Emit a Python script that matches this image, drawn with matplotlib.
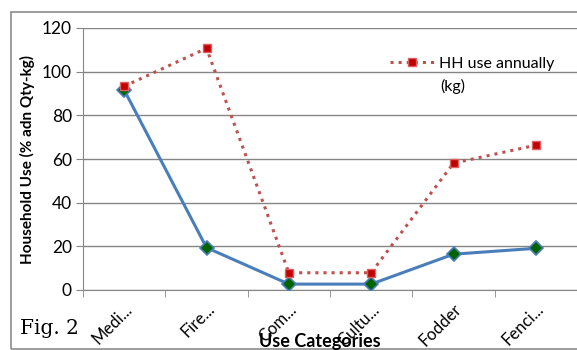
import numpy as np
import matplotlib.pyplot as plt
from matplotlib.patches import Rectangle

categories = ['Medi...', 'Fire...', 'Com...', 'Cultu...', 'Fodder', 'Fenci...']
hh_use_pct = [91.6, 19.4, 2.7, 2.7, 16.4, 19.1]
hh_use_kg = [93.3, 110.7, 7.9, 7.9, 58.1, 66.3]

plt.rcParams['font.family'] = ['Lato', 'DejaVu Sans']

fig = plt.figure(figsize=(5.77, 3.5), dpi=100)
ax = fig.add_axes([83/577, 60/350, 494/577, 262/350])

# outer chart border
fig.patches.append(Rectangle((11/577, 1/350), 1.0, 337/350, transform=fig.transFigure,
                             fill=False, edgecolor='#8c8c8c', linewidth=1.2))

x = np.arange(len(categories))
ax.plot(x, hh_use_pct, '-', color='#4a7ebb', lw=2.2, marker='D', ms=7,
        markerfacecolor='#006400', markeredgecolor='#4a7ebb', markeredgewidth=1.2, zorder=3)
ax.plot(x, hh_use_kg, ':', color='#c0504d', lw=2.2, marker='s', ms=6,
        markerfacecolor='#c00000', markeredgecolor='#e06060', markeredgewidth=1,
        label='HH use annually', zorder=3)

ax.set_xlim(-0.5, len(categories) - 0.5)
ax.set_ylim(0, 120)
ax.set_yticks(range(0, 121, 20))
ax.yaxis.grid(True, color='#868686', lw=1)
ax.set_axisbelow(True)

ax.set_xticks(x)
ax.set_xticklabels(categories, rotation=45, ha='right', rotation_mode='anchor', fontsize=12)
ax.set_xticks(np.arange(-0.5, len(categories)), minor=True)
ax.tick_params(axis='x', which='major', length=0, pad=8)
ax.tick_params(axis='x', which='minor', length=5, color='#868686')
ax.tick_params(axis='y', length=5, color='#868686', labelsize=12.5, pad=3)

for s in ['top', 'right']:
    ax.spines[s].set_visible(False)
ax.spines['left'].set_color('#868686')
ax.spines['bottom'].set_color('#868686')

ax.set_ylabel('Household Use (% adn Qty-kg)', fontweight='bold', fontsize=11, labelpad=5)
fig.text(320/577, 3/350, 'Use Categories', fontweight='bold', fontsize=13,
         ha='center', va='baseline')

leg = ax.legend(loc='center left', bbox_to_anchor=(0.621, 0.863), frameon=False,
                fontsize=11.5, handlelength=2.75, handletextpad=0.35,
                borderaxespad=0, borderpad=0)
# second line of the legend label, under the first one
fig.text(440/577, (350 - 86)/350, '(kg)', fontsize=11.5, va='center')

fig.text(20/577, 16/350, 'Fig. 2', family='DejaVu Serif', fontsize=14.5)

fig.savefig('out.png', dpi=100)
